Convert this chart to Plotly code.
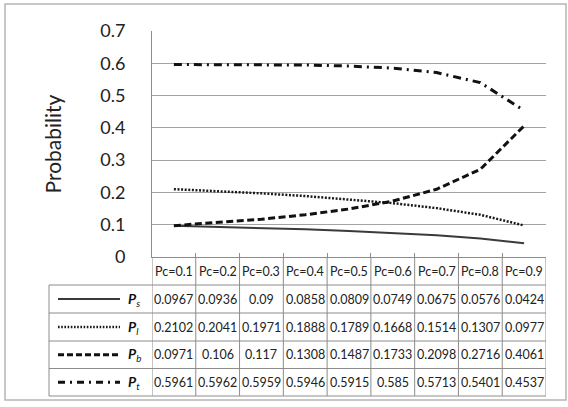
import plotly.graph_objects as go

categories = ["Pc=0.1", "Pc=0.2", "Pc=0.3", "Pc=0.4", "Pc=0.5", "Pc=0.6", "Pc=0.7", "Pc=0.8", "Pc=0.9"]
ps = [0.0967, 0.0936, 0.09, 0.0858, 0.0809, 0.0749, 0.0675, 0.0576, 0.0424]
pl = [0.2102, 0.2041, 0.1971, 0.1888, 0.1789, 0.1668, 0.1514, 0.1307, 0.0977]
pb = [0.0971, 0.106, 0.117, 0.1308, 0.1487, 0.1733, 0.2098, 0.2716, 0.4061]
pt = [0.5961, 0.5962, 0.5959, 0.5946, 0.5915, 0.585, 0.5713, 0.5401, 0.4537]
series_names = ["s", "l", "b", "t"]
series_vals = [ps, pl, pb, pt]
y_ticks = [0, 0.1, 0.2, 0.3, 0.4, 0.5, 0.6, 0.7]
y_ticktext = ["0", "0.1", "0.2", "0.3", "0.4", "0.5", "0.6", "0.7"]

styles = [
    dict(color="#3a3a3a", width=2, dash="solid"),
    dict(color="#1a1a1a", width=2.5, dash="2px,1.6px"),
    dict(color="#111111", width=3, dash="7px,3.5px"),
    dict(color="#111111", width=3, dash="8px,5px,2px,5px"),
]
legend_dash = ["solid", "1.6px,1.6px", "6px,3px", "7px,5px,2px,5px"]

W, H = 568, 407
ML, MR, MT, MB = 152, 22, 31, 150
PW = W - ML - MR
PH = H - MT - MB
Y0 = H - MB  # pixel y of the x axis


def py(Y):
    return (Y0 - Y) / PH


def px(X):
    return (X - ML) / PW


FONT = "Lato, 'Open Sans', sans-serif"
GRID = "#a3a3a3"
TBL = "#8c8c8c"

fig = go.Figure()
for name, vals, st in zip(series_names, series_vals, styles):
    fig.add_trace(go.Scatter(x=categories, y=vals, mode="lines", name="P" + name,
                             line=dict(color=st["color"], width=st["width"], dash=st["dash"]),
                             showlegend=False))

shapes = []
annotations = []

# table geometry (pixel rows)
row_edges = [285, 313, 341, 368.5, 396]
header_center = 271
row_centers = [(row_edges[i] + row_edges[i + 1]) / 2 for i in range(4)]
tbl_left = px(49)

# vertical lines at category boundaries
for i in range(len(categories) + 1):
    shapes.append(dict(type="line", xref="x", yref="paper", x0=i - 0.5, x1=i - 0.5,
                       y0=py(Y0), y1=py(row_edges[-1]), line=dict(color=TBL, width=1)))
# left edge of legend column
shapes.append(dict(type="line", xref="paper", yref="paper", x0=tbl_left, x1=tbl_left,
                   y0=py(row_edges[0]), y1=py(row_edges[-1]), line=dict(color=TBL, width=1)))
# horizontal row lines
for Y in row_edges:
    shapes.append(dict(type="line", xref="paper", yref="paper", x0=tbl_left, x1=1,
                       y0=py(Y), y1=py(Y), line=dict(color=TBL, width=1)))

# header labels
for c in categories:
    annotations.append(dict(x=c, y=py(header_center), xref="x", yref="paper", text=c,
                            showarrow=False, font=dict(family=FONT, size=12.5, color="#222"),
                            xanchor="center", yanchor="middle"))
# values
for r, (name, vals) in enumerate(zip(series_names, series_vals)):
    yc = py(row_centers[r])
    for c, v in zip(categories, vals):
        annotations.append(dict(x=c, y=yc, xref="x", yref="paper", text=f"{v:g}",
                                showarrow=False, font=dict(family=FONT, size=12.5, color="#222"),
                                xanchor="center", yanchor="middle"))
    # legend sample line
    st = styles[r]
    shapes.append(dict(type="line", xref="paper", yref="paper", x0=px(58), x1=px(120),
                       y0=yc, y1=yc, line=dict(color=st["color"], width=st["width"] if r else 2,
                                                dash=legend_dash[r])))
    annotations.append(dict(x=px(126), y=yc, xref="paper", yref="paper",
                            text=f"<b><i>P</i></b><sub><i>{name}</i></sub>",
                            showarrow=False, font=dict(family=FONT, size=14, color="#111"),
                            xanchor="left", yanchor="middle"))

# outer border
shapes.append(dict(type="rect", xref="paper", yref="paper", x0=px(5), x1=px(566),
                   y0=py(400), y1=py(4), line=dict(color="#b5b5b5", width=1.5),
                   fillcolor="rgba(0,0,0,0)", layer="below"))

fig.update_layout(
    width=W, height=H,
    margin=dict(l=ML, r=MR, t=MT, b=MB, pad=0),
    paper_bgcolor="white", plot_bgcolor="white",
    shapes=shapes, annotations=annotations,
    font=dict(family=FONT, color="#222"),
    xaxis=dict(type="category", range=[-0.5, 8.5], showticklabels=False, showgrid=False,
               showline=True, linecolor=TBL, linewidth=1, ticks="inside", tickson="boundaries",
               ticklen=4, tickcolor=TBL, zeroline=False, fixedrange=True),
    yaxis=dict(range=[0, 0.7], tickvals=y_ticks, ticktext=y_ticktext, showgrid=True,
               gridcolor=GRID, gridwidth=1, showline=True, linecolor=TBL, linewidth=1,
               zeroline=False, ticks="", ticklabelstandoff=22,
               tickfont=dict(family=FONT, size=18, color="#222"),
               title=dict(text="Probability", standoff=32,
                          font=dict(family=FONT, size=21, color="#222")),
               fixedrange=True),
)

fig.write_html("out.html")
